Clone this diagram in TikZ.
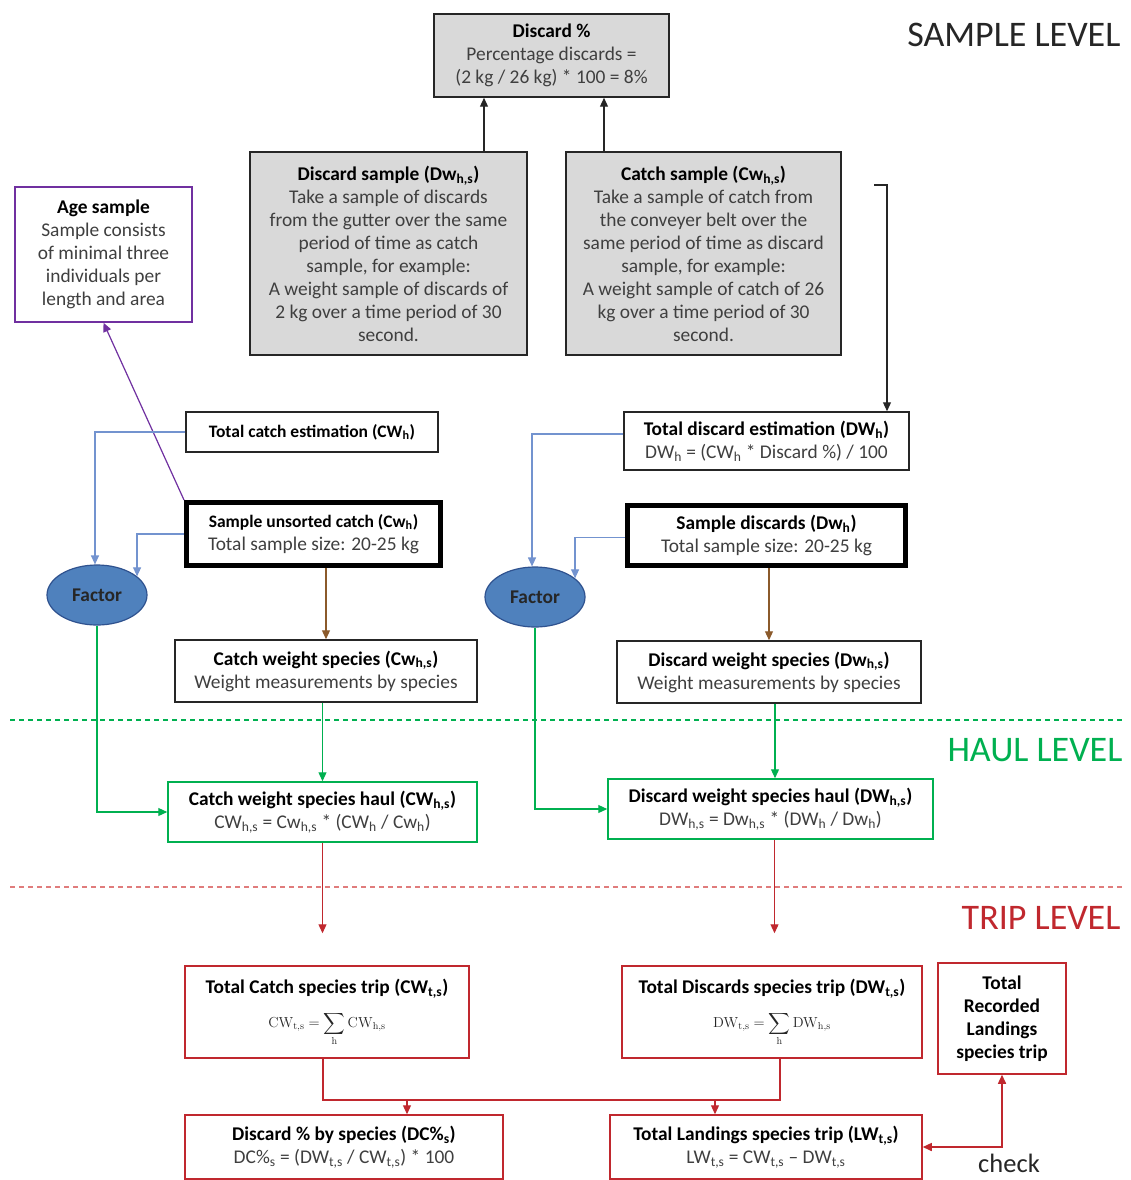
\RequirePackage{fix-cm}
\documentclass[tikz,border=0pt]{standalone}
\usepackage[no-math]{fontspec}
\setmainfont{Carlito}
\usetikzlibrary{arrows.meta,shapes.geometric}
\definecolor{boxgray}{HTML}{D9D9D9}
\definecolor{darkline}{HTML}{262626}
\definecolor{bodygray}{HTML}{3F3F3F}
\definecolor{lineblue}{HTML}{7393CF}
\definecolor{ellfill}{HTML}{4F81BD}
\definecolor{elldraw}{HTML}{2F528F}
\definecolor{hgreen}{HTML}{00B050}
\definecolor{tred}{HTML}{C0282E}
\definecolor{dred}{HTML}{E07C7C}
\definecolor{brownc}{HTML}{8B5A2B}
\definecolor{purp}{HTML}{7030A0}
\newcommand\boxtitle[1]{{\bfseries\color{black}#1}}
\newcommand\bxfont{\fontsize{19.4}{23}\selectfont}
\newcommand\smtitle{\fontsize{17.5}{23}\selectfont}
\newcommand\sbs[1]{\textsubscript{#1}}
\newcommand\bigsum{\mathop{\vcenter{\hbox{\scalebox{1.5}{$\displaystyle\sum$}}}}\limits}
\newcommand\frm[1]{{\fontsize{14.5}{16}\selectfont\color{darkline}$#1$}}
\begin{document}
\begin{tikzpicture}[x=1pt,y=-1pt,
  bx/.style 2 args={draw=darkline, line width=1.5pt, minimum width=#1, minimum height=#2,
    inner sep=0pt, align=center, font=\bxfont, text=bodygray},
  thick box/.style={line width=5pt, draw=black},
  ell/.style={ellipse, draw=elldraw, line width=1.2pt, fill=ellfill, minimum width=100pt,
    minimum height=60pt, inner sep=0pt, font=\bxfont\bfseries, text=darkline},
  arr/.style={-{Triangle[length=9pt,width=8pt]}, line width=1.2pt},
  lvl/.style={font=\fontsize{36}{42}\selectfont, anchor=east},
  dline/.style={line width=1.3pt, dash pattern=on 5pt off 4pt}]
\useasboundingbox[fill=white] (0,0) rectangle (1130,1180);

% ---- level labels and separators
\node[lvl, text=darkline] (lsample) at (1124,35) {SAMPLE LEVEL};
\node[lvl, text=hgreen] (lhaul) at (1126,750) {HAUL LEVEL};
\node[lvl, text=tred] (ltrip) at (1124,918) {TRIP LEVEL};
\coordinate (g1) at (10,720); \coordinate (g2) at (1125,720);
\coordinate (r1) at (10,887); \coordinate (r2) at (1125,887);
\draw[dline, hgreen] (g1) -- (g2);
\draw[dline, dred] (r1) -- (r2);

% ---- sample level
\node[bx={235pt}{83pt}, fill=boxgray] (dpct) at (551.5,55.5)
  {\boxtitle{Discard \%}\\Percentage discards =\\(2 kg / 26 kg) * 100 = 8\%};
\node[bx={277pt}{203pt}, fill=boxgray] (dsamp) at (388.5,253.5)
  {\boxtitle{Discard sample (Dw\sbs{h,s})}\\Take a sample of discards\\from the gutter over the same\\period of time as catch\\sample, for example:\\A weight sample of discards of\\2 kg over a time period of 30\\second.};
\node[bx={275pt}{203pt}, fill=boxgray] (csamp) at (703.5,253.5)
  {\boxtitle{Catch sample (Cw\sbs{h,s})}\\Take a sample of catch from\\the conveyer belt over the\\same period of time as discard\\sample, for example:\\A weight sample of catch of 26\\kg over a time period of 30\\second.};
\node[bx={177pt}{135pt}, draw=purp] (age) at (103.5,254.5)
  {\boxtitle{Age sample}\\Sample consists\\of minimal three\\individuals per\\length and area};

\node[bx={252pt}{40pt}] (tce) at (312,432)
  {\smtitle\boxtitle{Total catch estimation (CW\sbs{h})}};
\node[bx={254pt}{63pt}, thick box] (suc) at (313.5,534)
  {{\smtitle\boxtitle{Sample unsorted catch (Cw\sbs{h})}}\\Total sample size: 20-25 kg};
\node[ell] (f1) at (97,595) {Factor};
\node[bx={302pt}{62pt}] (cws) at (326,671)
  {\boxtitle{Catch weight species (Cw\sbs{h,s})}\\Weight measurements by species};
\node[bx={309pt}{60pt}, draw=hgreen] (cwh) at (322.5,812)
  {\boxtitle{Catch weight species haul (CW\sbs{h,s})}\\CW\sbs{h,s} = Cw\sbs{h,s} * (CW\sbs{h} / Cw\sbs{h})};

\node[bx={285pt}{58pt}] (tde) at (766.5,441)
  {\boxtitle{Total discard estimation (DW\sbs{h})}\\DW\sbs{h} = (CW\sbs{h} * Discard \%) / 100};
\node[bx={278pt}{60pt}, thick box] (sd) at (766.5,535.5)
  {\boxtitle{Sample discards (Dw\sbs{h})}\\Total sample size: 20-25 kg};
\node[ell] (f2) at (535,597) {Factor};
\node[bx={304pt}{62pt}] (dws) at (769,672)
  {\boxtitle{Discard weight species (Dw\sbs{h,s})}\\Weight measurements by species};
\node[bx={325pt}{60pt}, draw=hgreen] (dwh) at (770.5,809)
  {\boxtitle{Discard weight species haul (DW\sbs{h,s})}\\DW\sbs{h,s} = Dw\sbs{h,s} * (DW\sbs{h} / Dw\sbs{h})};

% ---- trip level
\node[bx={284pt}{92pt}, draw=tred] (ctrip) at (327,1012)
  {\boxtitle{Total Catch species trip (CW\sbs{t,s})}\\[11pt]
   \frm{\mathrm{CW}_{\mathrm{t,s}}=\bigsum_{\mathrm{h}}\mathrm{CW}_{\mathrm{h,s}}}};
\node[bx={300pt}{92pt}, draw=tred] (dtrip) at (772,1012)
  {\boxtitle{Total Discards species trip (DW\sbs{t,s})}\\[11pt]
   \frm{\mathrm{DW}_{\mathrm{t,s}}=\bigsum_{\mathrm{h}}\mathrm{DW}_{\mathrm{h,s}}}};
\node[bx={128pt}{111pt}, draw=tred] (trl) at (1002,1018.5)
  {\boxtitle{Total}\\\boxtitle{Recorded}\\\boxtitle{Landings}\\\boxtitle{species trip}};
\node[bx={318pt}{64pt}, draw=tred] (dcs) at (344,1147)
  {\boxtitle{Discard \% by species (DC\%\sbs{s})}\\DC\%\sbs{s} = (DW\sbs{t,s} / CW\sbs{t,s}) * 100};
\node[bx={312pt}{64pt}, draw=tred] (tl) at (766,1147)
  {\boxtitle{Total Landings species trip (LW\sbs{t,s})}\\LW\sbs{t,s} = CW\sbs{t,s} -- DW\sbs{t,s}};
\node[font=\fontsize{26.5}{30}\selectfont, text=darkline] (chk) at (1009,1163) {check};

% ---- connectors
\draw[arr, darkline] ([xshift=95.5pt]dsamp.north) -- ([xshift=95.5pt]dsamp.north |- dpct.south);
\draw[arr, darkline] ([xshift=-99.5pt]csamp.north) -- ([xshift=-99.5pt]csamp.north |- dpct.south);
\coordinate (cs1) at (874,185);
\draw[arr, darkline] (cs1) -| ([xshift=120.5pt]tde.north);
\draw[arr, purp] (suc.north west) -- (age.south);

\draw[arr, lineblue] (tce.west) -| ([xshift=-2pt]f1.north);
\draw[arr, lineblue] (suc.west) -| (f1.25);
\draw[arr, lineblue] ([yshift=7pt]tde.west) -| ([xshift=-3pt]f2.north);
\draw[arr, lineblue] ([yshift=-2pt]sd.west) -| (f2.25);

\draw[arr, brownc] (cws.north |- suc.south) -- (cws.north);
\draw[arr, brownc] (dws.north |- sd.south) -- (dws.north);

\draw[arr, hgreen] (cwh.north |- cws.south) -- (cwh.north);
\draw[arr, hgreen] ([xshift=6pt]dws.south) -- ([xshift=6pt]dws.south |- dwh.north);
\draw[arr, hgreen] (f1.south) |- (cwh.west);
\draw[arr, hgreen] (f2.south) |- (dwh.west);

\draw[arr, tred, shorten >=32pt] (cwh.south) -- (cwh.south |- ctrip.north);
\draw[arr, tred, shorten >=32pt] ([xshift=4pt]dwh.south) -- ([xshift=4pt]dwh.south |- dtrip.north);

\coordinate (bar) at (0,1100);
\draw[line width=1.2pt, tred] ([xshift=-4pt]ctrip.south) |- ([xshift=8pt]dtrip.south |- bar) -- ([xshift=8pt]dtrip.south);
\draw[arr, tred] ([xshift=63pt]dcs.north |- bar) -- ([xshift=63pt]dcs.north);
\draw[arr, tred] ([xshift=-51pt]tl.north |- bar) -- ([xshift=-51pt]tl.north);
\draw[{Triangle[length=9pt,width=8pt]}-{Triangle[length=9pt,width=8pt]}, line width=1.5pt, tred]
  (tl.east) -| (trl.south);
\end{tikzpicture}
\end{document}
